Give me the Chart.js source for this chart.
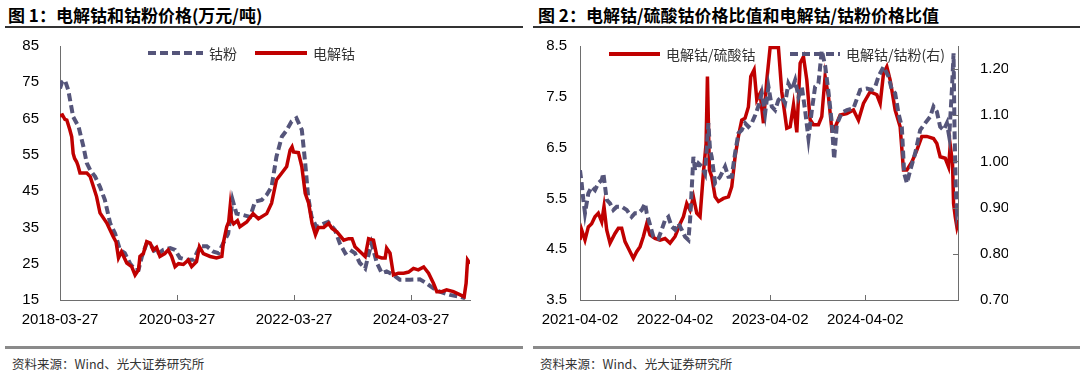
<!DOCTYPE html>
<html>
<head>
<meta charset="utf-8">
<script src="https://cdn.jsdelivr.net/npm/chart.js@4.4.1/dist/chart.umd.min.js"></script>
<style>
body { margin: 0; background: #fff; width: 1085px; height: 375px; position: relative; overflow: hidden; font-family: "Noto Sans CJK SC", sans-serif; }
.title { position: absolute; top: 2px; font-size: 17px; font-weight: bold; color: #000; white-space: nowrap; }
.rule-top { position: absolute; top: 26px; height: 2px; background: #333; }
.rule-bot { position: absolute; top: 346px; height: 3px; background: #8a8a8a; }
.src { position: absolute; top: 354px; font-size: 12.5px; color: #333; white-space: nowrap; }
canvas { position: absolute; }
</style>
</head>
<body>
<div class="title" style="left:8px">图 1：电解钴和钴粉价格(万元/吨)</div>
<div class="rule-top" style="left:5px;width:518px"></div>
<canvas id="chart1" width="518" height="300" style="left:5px;top:30px"></canvas>
<div class="rule-bot" style="left:5px;width:518px"></div>
<div class="src" style="left:12px">资料来源：Wind、光大证券研究所</div>

<div class="title" style="left:538px">图 2：电解钴/硫酸钴价格比值和电解钴/钴粉价格比值</div>
<div class="rule-top" style="left:533px;width:547px"></div>
<canvas id="chart2" width="547" height="300" style="left:533px;top:30px"></canvas>
<div class="rule-bot" style="left:533px;width:547px"></div>
<div class="src" style="left:540px">资料来源：Wind、光大证券研究所</div>

<script>
// 图1：横轴为自 2018-03-27 起的月数
const xTicks1 = [0, 24, 48, 72];
const xLabels1 = ['2018-03-27', '2020-03-27', '2022-03-27', '2024-03-27'];
const yTicks1 = [15, 25, 35, 45, 55, 65, 75, 85];

// 钴粉 (万元/吨)
const cobaltPowder = [
    [0, 73.3], [0.4, 75], [1, 75.6], [1.7, 72.8], [2.7, 65.5], [3.8, 62.8], [4.8, 57.3], [5.5, 52.7],
    [6.2, 50.8], [7.2, 49], [8.2, 46.2], [9.2, 42.6], [10.3, 36.1], [11.3, 33.3], [12.3, 28.8], [13.3, 27.9],
    [14.4, 25], [15.4, 23.3], [16.1, 23.3], [16.8, 27], [17.8, 30.7], [18.8, 29.8], [19.8, 27.4], [21.2, 28.8],
    [22.6, 29.3], [23.6, 28.8], [24.6, 26.6], [26, 26.1], [27.4, 26.1], [28.7, 29.8], [30.1, 29.8], [31.5, 28.3],
    [32.5, 27.9], [33.5, 30.7], [34.5, 33.3], [35.4, 42.6], [36.2, 38.8], [37.6, 38.4], [39, 37.9], [40, 42.1],
    [41.4, 42.6], [42.4, 44], [43.4, 46.2], [44.4, 54.5], [45.5, 60], [46.5, 61.8], [47.5, 64.2], [48.5, 65.1],
    [49.6, 61.9], [50.3, 52.7], [50.9, 43.5], [51.6, 37.9], [52.6, 35.1], [54, 36], [55, 36.5], [56.4, 34.3],
    [57.4, 30.6], [58.5, 27.9], [59.5, 28.8], [60.5, 27.9], [61.5, 25.2], [62.6, 23.7], [63.2, 27], [63.9, 30.6],
    [65, 25.2], [66, 22.4], [67, 22.9], [68.4, 21.9], [69.7, 20.6], [71.8, 20.6], [73.8, 20.7], [75.2, 19.6],
    [76.6, 18.2], [77.9, 17.3], [80, 16.4], [82, 15.9], [83.1, 15.5]
];

// 电解钴 (万元/吨)
const cathodeCobalt = [
    [0, 65.7], [0.5, 66], [1, 64.8], [1.4, 64.6], [2, 62], [2.4, 60], [2.7, 55.4], [3, 54], [3.4, 53.1],
    [3.7, 52], [4.1, 50], [5.5, 50], [6.2, 49], [7.5, 43.5], [8.2, 39], [9.6, 36.2], [10.9, 32.5], [11.5, 31],
    [12, 26.6], [12.6, 28.3], [13.7, 25.2], [14.7, 24.2], [15.4, 21.9], [16.1, 23.3], [16.4, 27], [17.1, 27.8],
    [17.8, 31.1], [18.5, 30.7], [19.1, 28.8], [19.8, 29.5], [20.5, 27], [21.5, 27.8], [22.2, 28.8], [22.9, 27],
    [23.6, 24.2], [24.3, 25], [25.3, 24.8], [26.3, 26], [27, 24.2], [28, 25.6], [28.6, 29.7], [29.4, 27.8],
    [30.8, 27], [32.1, 26.6], [33.2, 27], [33.5, 30.7], [34.2, 35.2], [34.6, 36.5], [34.9, 40.7], [35.2, 36.9],
    [35.6, 36], [36.4, 36.9], [36.9, 35.2], [38.3, 36.5], [39.6, 38.8], [40.7, 37.4], [42.4, 38.8], [43.4, 41.7],
    [44.4, 48.1], [45.5, 50], [46.5, 51.8], [47.2, 56.3], [47.6, 57.2], [47.9, 55.8], [48.9, 55.6], [49.6, 51.8],
    [50.3, 44.4], [51, 41.7], [51.7, 36.1], [52.4, 33], [53, 35], [54.1, 35], [55.1, 36.1], [55.8, 34.7],
    [56.8, 33.8], [58.2, 31.5], [59.2, 31.9], [59.9, 31.9], [60.5, 29.7], [61.9, 27.9], [62.6, 27], [63.3, 31.9],
    [64.3, 31.5], [65, 27], [66, 26.6], [66.7, 26.6], [67, 29.3], [67.7, 27.9], [68.4, 21.9], [69.4, 22.4],
    [70.5, 22.4], [71.5, 22.7], [72.5, 23.7], [73.5, 23.3], [74.6, 24.1], [75.6, 22.4], [76.6, 19.6], [77.3, 17.3],
    [78.3, 17.3], [79.3, 17.8], [80.7, 17.3], [82.1, 16.4], [82.9, 15.9], [83.3, 19.6], [83.6, 26], [84.1, 25]
];

// 图2：横轴为自 2021-04-02 起的月数
const xTicks2 = [0, 12, 24, 36];
const xLabels2 = ['2021-04-02', '2022-04-02', '2023-04-02', '2024-04-02'];
const yTicksLeft = [3.5, 4.5, 5.5, 6.5, 7.5, 8.5];
const yTicksRight = [0.70, 0.80, 0.90, 1.00, 1.10, 1.20];

// 电解钴/硫酸钴 (左轴)
const ratioSulfate = [
    [0, 4.68], [0.21, 4.88], [0.63, 4.68], [1.05, 4.94], [1.47, 5.0], [1.89, 5.14], [2.31, 5.21], [2.74, 5.04],
    [3.03, 5.34], [3.37, 4.88], [3.79, 4.62], [4.42, 4.81], [4.84, 4.91], [5.26, 4.91], [5.68, 4.65], [6.1, 4.52],
    [6.73, 4.32], [7.15, 4.45], [7.58, 4.55], [8.0, 4.75], [8.42, 5.0], [8.84, 4.78], [9.47, 4.71], [10.1, 4.68],
    [10.73, 4.71], [11.36, 4.62], [12.0, 4.75], [12.63, 5.0], [13.05, 5.14], [13.47, 5.4], [13.89, 5.27],
    [14.31, 5.53], [14.73, 5.21], [15.15, 5.14], [15.57, 6.0], [15.91, 6.58], [16.08, 7.9], [16.33, 6.06],
    [16.62, 5.93], [17.05, 5.53], [17.47, 5.44], [18.1, 5.5], [18.73, 5.53], [19.15, 5.73], [19.57, 6.32],
    [19.99, 6.72], [20.41, 7.04], [20.83, 7.08], [21.25, 7.3], [21.55, 7.9], [21.97, 8.03], [22.31, 7.44],
    [22.73, 7.57], [23.15, 6.98], [23.57, 7.83], [23.99, 8.47], [25.04, 8.47], [25.46, 7.6], [26.09, 6.88],
    [26.52, 6.91], [26.94, 7.34], [27.36, 6.8], [27.78, 8.16], [28.2, 8.29], [28.62, 7.83], [29.04, 7.05],
    [29.46, 6.95], [30.09, 6.95], [30.51, 7.11], [30.93, 7.9], [31.36, 7.5], [31.78, 6.85], [32.2, 6.9],
    [32.83, 7.14], [33.67, 7.17], [34.51, 7.24], [35.14, 7.04], [35.77, 7.37], [36.62, 7.6], [37.46, 7.54],
    [37.88, 7.37], [38.3, 7.96], [38.72, 8.09], [39.14, 7.83], [39.77, 7.24], [40.4, 6.91], [40.82, 6.06],
    [41.25, 6.06], [41.88, 6.22], [42.51, 6.45], [43.14, 6.72], [43.77, 6.72], [44.61, 6.68], [45.03, 6.58],
    [45.45, 6.32], [46.09, 6.29], [46.51, 6.12], [46.72, 6.55], [47.01, 6.19], [47.14, 5.4], [47.35, 5.14],
    [47.56, 4.94], [47.77, 5.07]
];

// 电解钴/钴粉 (右轴)
const ratioPowder = [
    [0, 0.981], [0.21, 0.953], [0.42, 0.917], [0.63, 0.888], [1.05, 0.931], [1.47, 0.945], [1.89, 0.938],
    [2.31, 0.953], [2.74, 0.960], [2.95, 0.974], [3.37, 0.917], [3.79, 0.909], [4.21, 0.895], [4.63, 0.902],
    [5.26, 0.902], [5.89, 0.895], [6.52, 0.880], [6.94, 0.888], [7.37, 0.888], [7.79, 0.895], [8.21, 0.909],
    [8.42, 0.888], [9.26, 0.837], [9.89, 0.833], [10.31, 0.852], [10.73, 0.873], [11.15, 0.880], [11.57, 0.859],
    [12.0, 0.852], [12.42, 0.866], [12.84, 0.852], [13.26, 0.837], [13.68, 0.830], [13.89, 0.873], [14.31, 1.010],
    [14.52, 0.981], [14.94, 0.996], [15.36, 0.989], [15.78, 0.974], [16.2, 1.083], [16.41, 1.025], [16.62, 1.010],
    [17.05, 0.953], [17.68, 0.967], [18.31, 0.989], [18.73, 0.967], [19.15, 0.967], [19.57, 1.018], [19.99, 1.061],
    [20.41, 1.068], [20.83, 1.083], [21.25, 1.075], [21.67, 1.083], [22.1, 1.10], [22.52, 1.12], [22.94, 1.148],
    [23.36, 1.104], [23.78, 1.162], [24.2, 1.119], [24.62, 1.111], [25.04, 1.133], [25.46, 1.14], [25.88, 1.126],
    [26.3, 1.169], [26.73, 1.155], [27.15, 1.176], [27.57, 1.14], [27.99, 1.162], [28.41, 1.11], [28.83, 1.05],
    [29.25, 1.11], [29.67, 1.162], [30.09, 1.169], [30.51, 1.24], [30.93, 1.208], [31.36, 1.15], [31.78, 1.083],
    [32.07, 1.005], [32.41, 1.08], [33.04, 1.106], [33.67, 1.111], [34.51, 1.115], [35.35, 1.155], [36.2, 1.158],
    [36.83, 1.155], [37.25, 1.162], [37.67, 1.184], [38.3, 1.205], [38.93, 1.184], [39.35, 1.155], [39.77, 1.148],
    [40.19, 1.104], [40.61, 1.075], [40.91, 0.974], [41.25, 0.953], [41.67, 0.981], [42.3, 1.018], [42.93, 1.068],
    [43.56, 1.083], [44.19, 1.097], [44.61, 1.119], [45.03, 1.108], [45.45, 1.075], [45.88, 1.068], [46.3, 1.083],
    [46.59, 1.054], [46.93, 1.155], [47.14, 1.234], [47.26, 1.068], [47.43, 0.938], [47.56, 0.895], [47.69, 0.909]
];

const RED = '#c00000';
const SLATE = '#55557a';
const AXIS = '#6e6e6e';
const tickFont = { family: '"Liberation Sans", Arial, sans-serif', size: 15 };

function pts(list) {
    return list.map(p => ({ x: p[0], y: p[1] }));
}

function fixedTicks(values) {
    return function(scale) {
        scale.ticks = values.map(v => ({ value: v }));
    };
}

// 纵轴固定宽度，不让刻度文字撑开上下边距
function fixWidth(w) {
    return function(scale) {
        scale.width = w;
        scale.paddingTop = 0;
        scale.paddingBottom = 0;
    };
}

// 内向刻度线和图例
const overlay = {
    id: 'overlay',
    afterDatasetsDraw(chart, args, opts) {
        const ctx = chart.ctx;
        const a = chart.chartArea;
        ctx.save();
        ctx.strokeStyle = AXIS;
        ctx.lineWidth = 1;
        const xs = chart.scales.x;
        xs.ticks.forEach(t => {
            const px = Math.round(xs.getPixelForValue(t.value)) + 0.5;
            ctx.beginPath();
            ctx.moveTo(px, a.bottom);
            ctx.lineTo(px, a.bottom - 5);
            ctx.stroke();
        });
        if (chart.scales.y1) {
            const ys = chart.scales.y1;
            ys.ticks.forEach(t => {
                const py = Math.round(ys.getPixelForValue(t.value)) + 0.5;
                ctx.beginPath();
                ctx.moveTo(a.right, py);
                ctx.lineTo(a.right - 5, py);
                ctx.stroke();
            });
        }
        opts.items.forEach(it => {
            ctx.setLineDash(it.dash || []);
            ctx.strokeStyle = it.color;
            ctx.lineWidth = it.width;
            ctx.beginPath();
            ctx.moveTo(it.x0, it.y);
            ctx.lineTo(it.x1, it.y);
            ctx.stroke();
            ctx.setLineDash([]);
            ctx.fillStyle = '#333';
            ctx.font = '14px "Noto Sans CJK SC", sans-serif';
            ctx.textBaseline = 'middle';
            ctx.fillText(it.text, it.x1 + 6, it.y + 1);
        });
        ctx.restore();
    }
};

function xScale(max, ticks, labels) {
    return {
        type: 'linear',
        min: 0,
        max: max,
        afterBuildTicks: fixedTicks(ticks),
        afterFit: s => { s.height = 30; },
        grid: { display: false },
        border: { color: AXIS, width: 1 },
        ticks: {
            font: tickFont, color: '#000', padding: 3, maxRotation: 0,
            callback: v => labels[ticks.indexOf(v)]
        }
    };
}

// 图1
new Chart(document.getElementById('chart1').getContext('2d'), {
    type: 'line',
    data: {
        datasets: [
            { label: '电解钴', data: pts(cathodeCobalt), borderColor: RED, borderWidth: 3.5, pointRadius: 0, tension: 0 },
            { label: '钴粉', data: pts(cobaltPowder), borderColor: SLATE, borderWidth: 4, borderDash: [8, 4], pointRadius: 0, tension: 0 }
        ]
    },
    options: {
        responsive: false,
        animation: false,
        layout: { padding: { top: 16, right: 53, bottom: 0, left: 0 } },
        scales: {
            x: xScale(84.1, xTicks1, xLabels1),
            y: {
                min: 15, max: 85,
                afterBuildTicks: fixedTicks(yTicks1),
                afterFit: fixWidth(55),
                grid: { display: false },
                border: { color: AXIS, width: 1 },
                ticks: { font: tickFont, color: '#000', padding: 13 }
            }
        },
        plugins: {
            legend: { display: false },
            tooltip: { enabled: false },
            overlay: {
                items: [
                    { text: '钴粉', color: SLATE, width: 4, dash: [8, 4], x0: 143, x1: 198, y: 23 },
                    { text: '电解钴', color: RED, width: 4, x0: 250, x1: 302, y: 23 }
                ]
            }
        }
    },
    plugins: [overlay]
});

// 图2
new Chart(document.getElementById('chart2').getContext('2d'), {
    type: 'line',
    data: {
        datasets: [
            { label: '电解钴/钴粉(右)', data: pts(ratioPowder), yAxisID: 'y1', borderColor: SLATE, borderWidth: 4, borderDash: [8, 4], pointRadius: 0, tension: 0 },
            { label: '电解钴/硫酸钴', data: pts(ratioSulfate), yAxisID: 'y', borderColor: RED, borderWidth: 3.5, pointRadius: 0, tension: 0 }
        ]
    },
    options: {
        responsive: false,
        animation: false,
        layout: { padding: { top: 16, right: 72, bottom: 0, left: 0 } },
        scales: {
            x: xScale(47.7, xTicks2, xLabels2),
            y: {
                position: 'left',
                min: 3.5, max: 8.5,
                afterBuildTicks: fixedTicks(yTicksLeft),
                afterFit: fixWidth(47),
                grid: { display: false },
                border: { color: AXIS, width: 1 },
                ticks: { font: tickFont, color: '#000', padding: 5, callback: v => v.toFixed(1) }
            },
            y1: {
                position: 'right',
                min: 0.70, max: 1.25,
                afterBuildTicks: fixedTicks(yTicksRight),
                afterFit: fixWidth(50),
                grid: { display: false },
                border: { color: AXIS, width: 1 },
                ticks: { font: tickFont, color: '#000', padding: 14, callback: v => v.toFixed(2) }
            }
        },
        plugins: {
            legend: { display: false },
            tooltip: { enabled: false },
            overlay: {
                items: [
                    { text: '电解钴/硫酸钴', color: RED, width: 4, x0: 76, x1: 127, y: 24 },
                    { text: '电解钴/钴粉(右)', color: SLATE, width: 4, dash: [8, 4], x0: 257, x1: 307, y: 24 }
                ]
            }
        }
    },
    plugins: [overlay]
});
</script>
</body>
</html>
